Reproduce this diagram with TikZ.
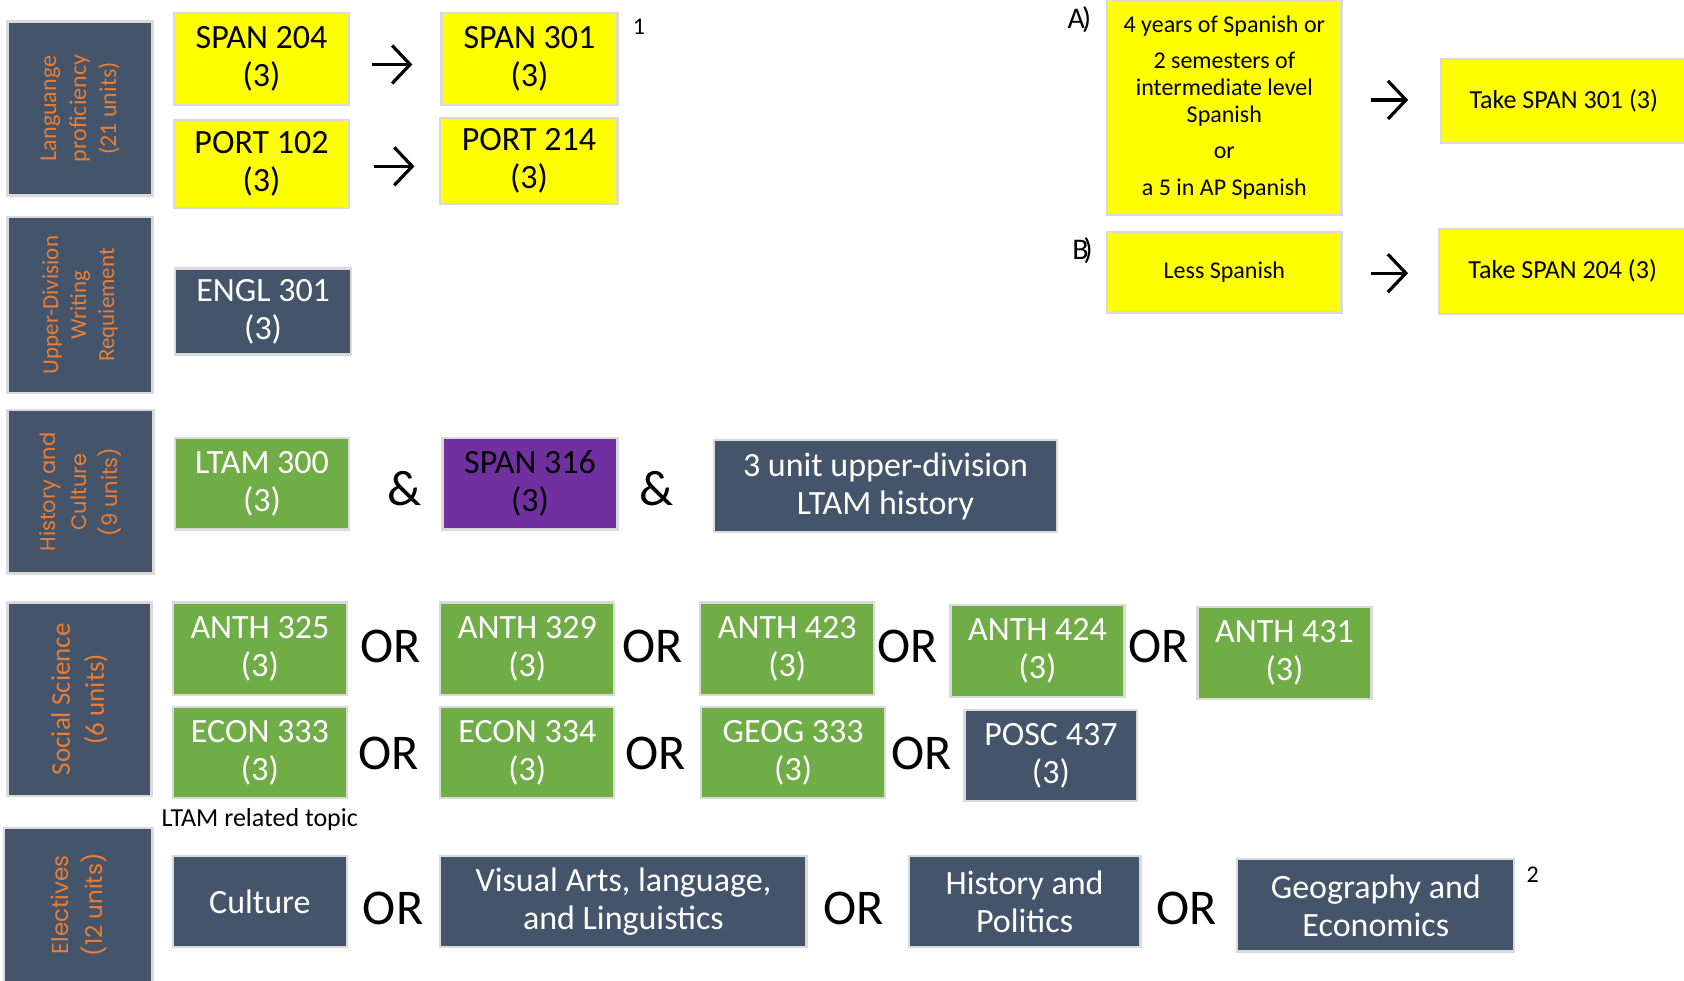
\documentclass[tikz,border=0pt]{standalone}
\usepackage{fontspec}
\setmainfont{Carlito}
\newfontfamily\catfont{Poppins}
\usetikzlibrary{arrows.meta}
\definecolor{myslate}{HTML}{44546A}
\definecolor{myyellow}{HTML}{FFFF00}
\definecolor{mygreen}{HTML}{70AD47}
\definecolor{mypurple}{HTML}{7030A0}
\definecolor{myorange}{HTML}{ED7D31}
\definecolor{boxline}{HTML}{DADADA}
\newcommand\bx[7]{\node[#1, minimum width={(#5-#3)*0.537pt}, minimum height={(#6-#4)*0.537pt}] (#2) at ({(#3+#5)/2},{(#4+#6)/2}) {#7};}
\tikzset{
  box/.style={draw=boxline, line width=1.1pt, inner sep=0pt, align=center, font=\fontsize{17}{19}\selectfont},
  ybox/.style={box, fill=myyellow, text=black},
  gbox/.style={box, fill=mygreen, text=white},
  dbox/.style={box, fill=myslate, text=white},
  pbox/.style={box, fill=mypurple, text=black},
  smalltxt/.style={font=\fontsize{12}{13.4}\selectfont},
  taketxt/.style={font=\fontsize{13}{15}\selectfont},
  cat/.style={draw=boxline, line width=1.1pt, fill=myslate, text=myorange, inner sep=0pt, align=center, rotate=90},
  cata/.style={cat, font=\fontsize{12}{15}\selectfont},
  catb/.style={cat, font=\catfont\fontsize{10.5}{15.5}\selectfont},
  catc/.style={cat, font=\catfont\fontsize{11.5}{17}\selectfont},
  conj/.style={inner sep=0pt, font=\fontsize{25}{25}\selectfont},
  note/.style={inner sep=0pt, font=\fontsize{12}{12}\selectfont},
  optlab/.style={inner sep=0pt, font=\fontsize{15}{15}\selectfont},
  arr/.style={line width=1.6pt, -{Straight Barb[length=9pt, width=19pt, line width=1.6pt]}}
}
\begin{document}
\begin{tikzpicture}[x=0.537pt, y=-0.537pt]
\useasboundingbox (0,0) rectangle (1568,913);
% category boxes
\node[cata, minimum width={(182-20)*0.537pt}, minimum height={(142-7)*0.537pt}] (catlang) at (74.5,101) {Languange\\proficiency\\(21 units)};
\node[cata, font=\fontsize{11.5}{14}\selectfont, minimum width={(366-202)*0.537pt}, minimum height={(142-7)*0.537pt}] (catwrite) at (74.5,284) {Upper-Division\\Writing\\Requiement};
\node[catb, minimum width={(534-382)*0.537pt}, minimum height={(143-7)*0.537pt}] (cathist) at (75,458) {History and\\Culture\\(9 units)};
\node[cata, font=\fontsize{13.5}{17}\selectfont, minimum width={(741-561)*0.537pt}, minimum height={(141-7)*0.537pt}] (catsoc) at (74,651) {Social Science\\(6 units)};
\node[catc, minimum width={(914-771)*0.537pt}, minimum height={(142-4)*0.537pt}] (catelec) at (73,842.5) {Electives\\(12 units)};
% language
\bx{ybox}{span204}{162}{12}{325}{98}{SPAN 204\\(3)}
\bx{ybox}{span301}{411}{12}{575}{98}{SPAN 301\\(3)}
\bx{ybox}{port102}{162}{112}{325}{194}{PORT 102\\(3)}
\bx{ybox}{port214}{410}{110}{575}{190}{PORT 214\\(3)}
\draw[arr, shorten <=10.7pt, shorten >=14pt] ([yshift=-2.7pt]span204.east) -- ([yshift=-2.7pt]span301.west);
\draw[arr, shorten <=11.8pt, shorten >=12.4pt] ([yshift=-1pt]port102.east) -- ([yshift=-1pt]port102.east -| port214.west);
\node[note] (fn1) at (595,25) {1};
% writing
\bx{dbox}{engl}{163}{250}{327}{330}{ENGL 301\\(3)}
% history
\bx{gbox}{ltam300}{163}{408}{325}{493}{LTAM 300\\(3)}
\bx{pbox}{span316}{412}{408}{575}{493}{SPAN 316\\(3)}
\bx{dbox}{ltamhist}{665}{410}{984}{495}{3 unit upper-division\\LTAM history}
\node[conj] (amp1) at (377,455) {\&};
\node[conj] (amp2) at (611,455) {\&};
% social science
\bx{gbox}{anth325}{161}{561}{323}{647}{ANTH 325\\(3)}
\bx{gbox}{anth329}{410}{561}{572}{647}{ANTH 329\\(3)}
\bx{gbox}{anth423}{652}{561}{814}{647}{ANTH 423\\(3)}
\bx{gbox}{anth424}{885}{563}{1047}{649}{ANTH 424\\(3)}
\bx{gbox}{anth431}{1115}{565}{1277}{651}{ANTH 431\\(3)}
\bx{gbox}{econ333}{161}{658}{323}{743}{ECON 333\\(3)}
\bx{gbox}{econ334}{410}{658}{572}{743}{ECON 334\\(3)}
\bx{gbox}{geog333}{653}{658}{824}{743}{GEOG 333\\(3)}
\bx{dbox}{posc437}{898}{661}{1059}{746}{POSC 437\\(3)}
\node[conj] (or1) at (364,602) {OR};
\node[conj] (or2) at (608,602) {OR};
\node[conj] (or3) at (845,602) {OR};
\node[conj] (or4) at (1079,602) {OR};
\node[conj] (or5) at (362,702) {OR};
\node[conj] (or6) at (610,702) {OR};
\node[conj] (or7) at (858,702) {OR};
% electives
\node[inner sep=0pt, anchor=west, font=\fontsize{13}{13}\selectfont] (ltamrel) at (150,763) {LTAM related topic};
\bx{dbox}{culture}{161}{797}{323}{882}{Culture}
\bx{dbox}{visual}{410}{797}{751}{882}{Visual Arts, language,\\and Linguistics}
\bx{dbox}{histpol}{846}{797}{1062}{882}{History and\\Politics}
\bx{dbox}{geoecon}{1152}{800}{1410}{886}{Geography and\\Economics}
\node[conj] (or8) at (366,846) {OR};
\node[conj] (or9) at (795,846) {OR};
\node[conj] (or10) at (1105,846) {OR};
\node[note] (fn2) at (1427,814) {2};
% placement
\node[optlab] (labA) at (1005,18) {A\kern-1.5pt)};
\node[optlab] (labB) at (1008,233) {B\kern-2.5pt)};
\bx{ybox, smalltxt}{boxA}{1031}{0}{1249}{200}{4 years of Spanish or\\[4.9pt]2 semesters of\\intermediate level\\Spanish\\[4.9pt]or\\[4.9pt]a 5 in AP Spanish}
\bx{ybox, smalltxt}{less}{1031}{216}{1249}{291}{Less Spanish}
\bx{ybox, taketxt}{take301}{1342}{55}{1570}{133}{Take SPAN 301 (3)}
\bx{ybox, taketxt}{take204}{1340}{213}{1570}{292}{Take SPAN 204 (3)}
\draw[arr, shorten <=14pt, shorten >=16pt] ([yshift=0.5pt]take301.west -| boxA.east) -- ([yshift=0.5pt]take301.west);
\draw[arr, shorten <=14pt, shorten >=15pt] ([yshift=-1pt]take204.west -| less.east) -- ([yshift=-1pt]take204.west);
\end{tikzpicture}
\end{document}
